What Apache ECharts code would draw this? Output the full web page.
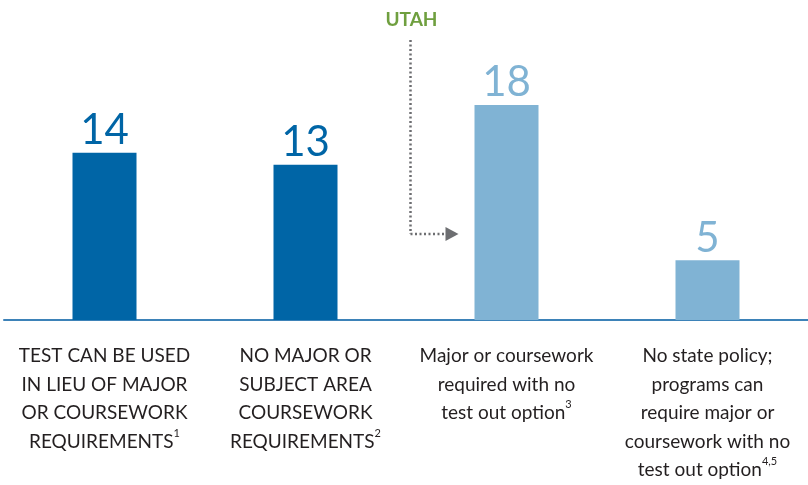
<!DOCTYPE html>
<html><head><meta charset="utf-8">
<script src="https://cdn.jsdelivr.net/npm/echarts@6/dist/echarts.min.js"></script>
<style>html,body{margin:0;padding:0;background:#fff}#c{width:808px;height:485px}</style>
</head><body><div id="c"></div>
<script>
const categories = [
  'TEST CAN BE USED\nIN LIEU OF MAJOR\nOR COURSEWORK\nREQUIREMENTS',
  'NO MAJOR OR\nSUBJECT AREA\nCOURSEWORK\nREQUIREMENTS',
  'Major or coursework\nrequired with no\ntest out option',
  'No state policy;\nprograms can\nrequire major or\ncoursework with no\ntest out option'
];
const footnotes = ['1', '2', '3', '4,5'];
const values = [14, 13, 18, 5];
const annotationLabel = 'UTAH';
const annotatedIndex = 2;

const dark = '#0065a6', light = '#80b3d4';
const barColors = [dark, dark, light, light];

const chart = echarts.init(document.getElementById('c'));
const font = 'Lato';
chart.setOption({
  animation: false,
  grid: {left: 4, right: -6, top: 81, bottom: 165},
  xAxis: {
    type: 'category', data: categories,
    axisTick: {show: false},
    axisLine: {lineStyle: {color: '#3d82b8', width: 2}},
    axisLabel: {
      interval: 0, margin: 22,
      formatter: (v, i) => v + '{s|' + footnotes[i] + '}',
      color: '#231f20', fontFamily: font, fontSize: 19, lineHeight: 28.5,
      rich: {s: {fontSize: 11, fontFamily: font, color: '#231f20', verticalAlign: 'top', lineHeight: 28.5, padding: [0,0,8,0]}}
    }
  },
  yAxis: {type: 'value', min: 0, max: 20, show: false, splitLine: {show: false}},
  series: [{
    type: 'bar', barWidth: 64,
    data: values.map((v, i) => ({value: v, itemStyle: {color: barColors[i]}, label: {color: barColors[i]}})),
    label: {show: true, position: 'top', distance: 1, fontSize: 42, fontWeight: 'normal', fontFamily: font}
  }]
});

function drawAnnotation() {
  const p = chart.convertToPixel({gridIndex: 0}, [annotatedIndex, values[annotatedIndex]]);
  const base = chart.convertToPixel({gridIndex: 0}, [annotatedIndex, 0]);
  const x = p[0] - 96;
  const yTop = 40, yArrow = base[1] - 86;
  const grey = '#6d6e71';
  chart.setOption({graphic: [
    {type: 'text', left: x - 25, top: 10, style: {text: annotationLabel, font: 'bold 19px ' + font, fill: '#6f9f3f'}},
    {type: 'line', shape: {x1: x, y1: yTop, x2: x, y2: yArrow}, style: {stroke: grey, lineWidth: 2.5, lineDash: [2, 2.5]}},
    {type: 'line', shape: {x1: x, y1: yArrow, x2: x + 37, y2: yArrow}, style: {stroke: grey, lineWidth: 2.5, lineDash: [2, 2.5]}},
    {type: 'polygon', shape: {points: [[x + 35, yArrow - 7], [x + 48, yArrow], [x + 35, yArrow + 7]]}, style: {fill: grey}}
  ]});
}
drawAnnotation();
</script></body></html>
